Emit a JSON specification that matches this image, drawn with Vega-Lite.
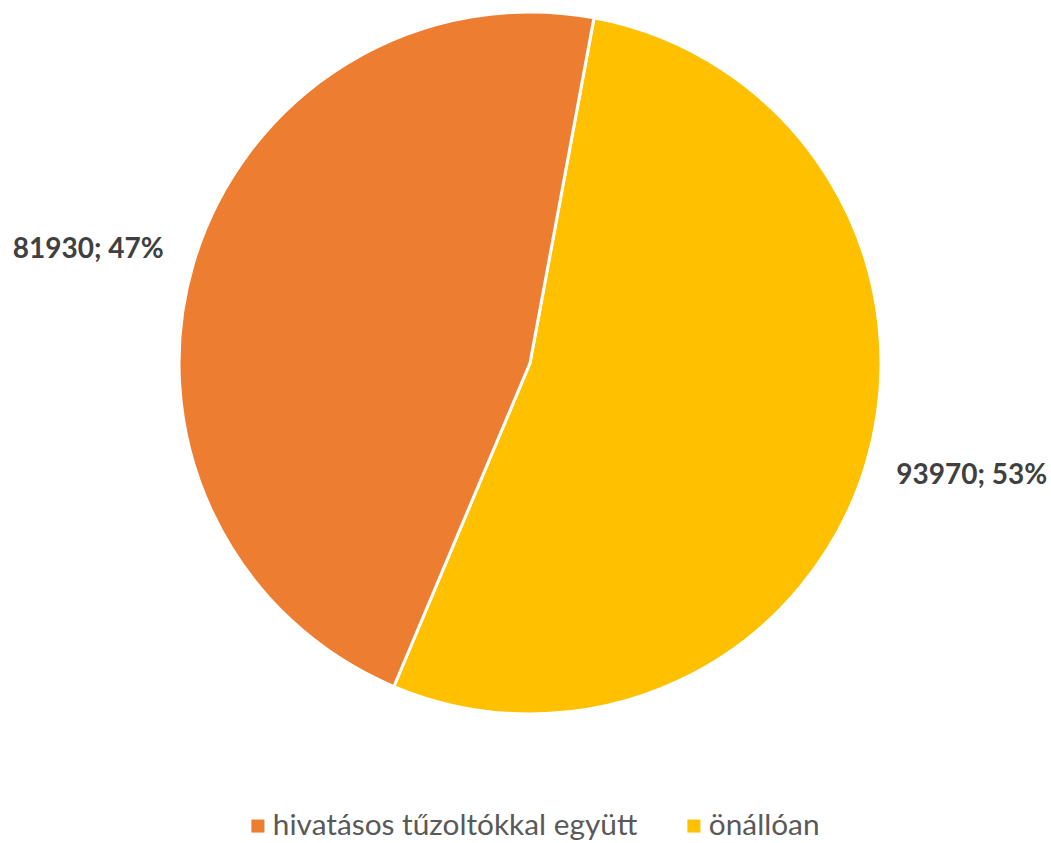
{
  "$schema": "https://vega.github.io/schema/vega-lite/v6.json",
  "width": 1060,
  "height": 726,
  "autosize": {"type": "none"},
  "padding": {"left": 0, "top": 0, "right": 0, "bottom": 117},
  "background": "white",
  "view": {"stroke": null},
  "data": {
    "values": [
      {"category": "önállóan", "value": 93970, "label": "93970; 53%", "order": 1},
      {"category": "hivatásos tűzoltókkal együtt", "value": 81930, "label": "81930; 47%", "order": 2}
    ]
  },
  "layer": [
    {
      "mark": {"type": "arc", "outerRadius": 351, "stroke": "white", "strokeWidth": 3},
      "encoding": {
        "theta": {"field": "value", "type": "quantitative", "stack": true, "scale": {"range": [0.1833, 6.4665]}},
        "order": {"field": "order", "type": "quantitative"},
        "color": {
          "field": "category",
          "type": "nominal",
          "scale": {"domain": ["hivatásos tűzoltókkal együtt", "önállóan"], "range": ["#ED7D31", "#FFC000"]},
          "legend": {
            "title": null,
            "orient": "none",
            "legendX": 243,
            "legendY": 811,
            "direction": "horizontal",
            "symbolType": "square",
            "symbolSize": 170,
            "symbolStrokeWidth": 0,
            "labelFontSize": 29.8,
            "labelFont": "Lato",
            "labelColor": "#595959",
            "labelOffset": 0,
            "columnPadding": 41,
            "labelLimit": 700
          }
        }
      }
    },
    {
      "mark": {"type": "text", "radius": 456, "fontSize": 28, "fontWeight": "bold", "font": "Lato", "color": "#404040"},
      "encoding": {
        "theta": {"field": "value", "type": "quantitative", "stack": true, "scale": {"range": [0.1433, 6.4265]}},
        "order": {"field": "order", "type": "quantitative"},
        "text": {"field": "label"}
      }
    }
  ],
  "resolve": {"scale": {"theta": "independent"}}
}
